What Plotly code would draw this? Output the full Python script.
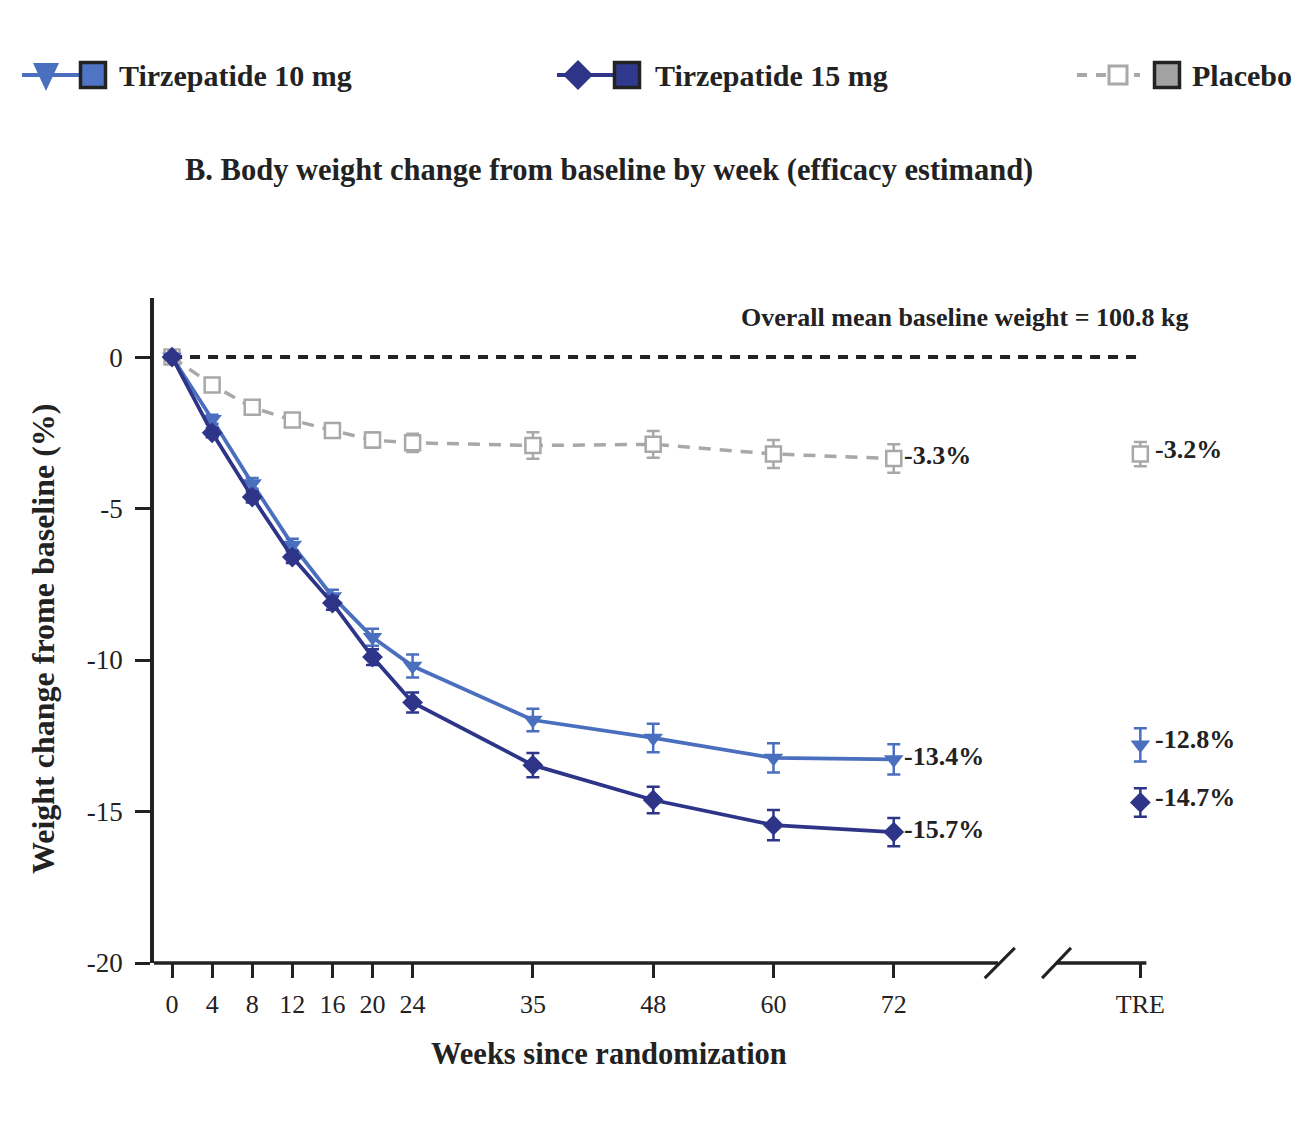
import plotly.graph_objects as go

# ---------------- data ----------------
week_labels = ["0", "4", "8", "12", "16", "20", "24", "35", "48", "60", "72"]
week_pos = [0, 1, 2, 3, 4, 5, 6, 9, 12, 15, 18]   # ordinal plotting positions
tre_label = "TRE"
tre_pos = 24.15

tirz10 = [0, -2.05, -4.17, -6.2, -7.9, -9.25, -10.2, -11.98, -12.57, -13.23, -13.28]
tirz10_err = [0, 0.15, 0.18, 0.2, 0.22, 0.28, 0.38, 0.37, 0.47, 0.48, 0.5]
tirz10_tre, tirz10_tre_err = -12.8, 0.55

tirz15 = [0, -2.5, -4.62, -6.6, -8.12, -9.9, -11.4, -13.47, -14.62, -15.45, -15.68]
tirz15_err = [0, 0.15, 0.18, 0.2, 0.22, 0.26, 0.33, 0.4, 0.44, 0.5, 0.47]
tirz15_tre, tirz15_tre_err = -14.7, 0.47

placebo = [0, -0.92, -1.66, -2.08, -2.42, -2.74, -2.83, -2.92, -2.88, -3.2, -3.35]
placebo_err = [0, 0.12, 0.15, 0.18, 0.2, 0.25, 0.3, 0.44, 0.44, 0.46, 0.47]
placebo_tre, placebo_tre_err = -3.2, 0.4

label72 = {"placebo": "-3.3%", "tirz10": "-13.4%", "tirz15": "-15.7%"}
label_tre = {"placebo": "-3.2%", "tirz10": "-12.8%", "tirz15": "-14.7%"}

y_ticks = [0, -5, -10, -15, -20]
y_ticktext = ["0", "-5", "-10", "-15", "-20"]

# ---------------- style ----------------
C10 = "#4b6fbf"
C15 = "#2e3589"
CPL = "#a8a8a8"
DARK = "#222222"
FONT = "Liberation Serif"

OFF = 8                      # page body margin offset
W, H = 1300 - 2 * OFF, 1128 - 2 * OFF


def X(p):
    return p - OFF


def Y(p):
    return p - OFF


PX_L, PX_R, PX_T, PX_B = X(154), X(1164), Y(298), Y(963)
X_RANGE = [-0.45, 24.74]

fig = go.Figure()


def err(a, c):
    return dict(type="data", array=a, visible=True, thickness=2.5, width=6.5, color=c)


# main series
fig.add_trace(go.Scatter(
    x=week_pos, y=placebo, mode="lines+markers",
    line=dict(color=CPL, width=3.5, dash="12px,9px"),
    marker=dict(symbol="square", size=15, color="white", line=dict(width=2.5, color=CPL)),
    error_y=err(placebo_err, CPL), showlegend=False))
fig.add_trace(go.Scatter(
    x=week_pos, y=tirz10, mode="lines+markers",
    line=dict(color=C10, width=3.8),
    marker=dict(symbol="triangle-down", size=17, color=C10),
    error_y=err(tirz10_err, C10), showlegend=False))
fig.add_trace(go.Scatter(
    x=week_pos, y=tirz15, mode="lines+markers",
    line=dict(color=C15, width=3.8),
    marker=dict(symbol="diamond", size=16, color=C15),
    error_y=err(tirz15_err, C15), showlegend=False))

# TRE points
fig.add_trace(go.Scatter(
    x=[tre_pos], y=[placebo_tre], mode="markers",
    marker=dict(symbol="square", size=15, color="white", line=dict(width=2.5, color=CPL)),
    error_y=err([placebo_tre_err], CPL), showlegend=False))
fig.add_trace(go.Scatter(
    x=[tre_pos], y=[tirz10_tre], mode="markers",
    marker=dict(symbol="triangle-down", size=17, color=C10),
    error_y=err([tirz10_tre_err], C10), showlegend=False))
fig.add_trace(go.Scatter(
    x=[tre_pos], y=[tirz15_tre], mode="markers",
    marker=dict(symbol="diamond", size=16, color=C15),
    error_y=err([tirz15_tre_err], C15), showlegend=False))

# ---------------- legend (overlay pixel axes) ----------------
LY = Y(75)
leg = [
    dict(line=(22, 80), dash=None, color=C10, sym="triangle", mx=46,
         sq=93, sqcol="#4f74c4", text="Tirzepatide 10 mg", tx=117),
    dict(line=(557, 615), dash=None, color=C15, sym="diamond", mx=578,
         sq=627, sqcol="#2f3a8e", text="Tirzepatide 15 mg", tx=653),
    dict(line=(1077, 1140), dash="10px,9px", color=CPL, sym="square-open", mx=1118,
         sq=1167, sqcol="#a2a2a2", text="Placebo", tx=1190),
]
shapes = []
for it in leg:
    fig.add_trace(go.Scatter(
        x=[X(v) for v in it["line"]], y=[LY, LY], mode="lines", xaxis="x2", yaxis="y2",
        line=dict(color=it["color"], width=4, dash=it["dash"]), showlegend=False, hoverinfo="skip"))
    if it["sym"] == "triangle":
        cx = X(it["mx"])
        shapes.append(dict(type="path", xref="x2", yref="y2",
                           path="M %f,%f L %f,%f L %f,%f Z" % (cx - 13, Y(63), cx + 13, Y(63), cx, Y(91)),
                           fillcolor=it["color"], line=dict(width=0)))
    else:
        if it["sym"] == "square-open":
            mk = dict(symbol="square", size=18, color="white", line=dict(width=3, color=it["color"]))
        else:
            mk = dict(symbol="diamond", size=23, color=it["color"])
        fig.add_trace(go.Scatter(
            x=[X(it["mx"])], y=[LY], mode="markers", xaxis="x2", yaxis="y2",
            marker=mk, showlegend=False, hoverinfo="skip"))
    fig.add_trace(go.Scatter(
        x=[X(it["sq"])], y=[LY], mode="markers", xaxis="x2", yaxis="y2",
        marker=dict(symbol="square", size=25, color=it["sqcol"], line=dict(width=3.5, color=DARK)),
        showlegend=False, hoverinfo="skip"))

annotations = []
for it in leg:
    annotations.append(dict(
        x=X(it["tx"]), y=LY, xref="x2", yref="y2", xanchor="left", yanchor="middle",
        text="<b>%s</b>" % it["text"], showarrow=False,
        font=dict(family=FONT, size=30, color=DARK)))

# title & axis titles
annotations.append(dict(x=X(609), y=Y(170), xref="x2", yref="y2", xanchor="center", yanchor="middle",
                        text="<b>B. Body weight change from baseline by week (efficacy estimand)</b>",
                        showarrow=False, font=dict(family=FONT, size=30.5, color=DARK)))
annotations.append(dict(x=X(609), y=Y(1054), xref="x2", yref="y2", xanchor="center", yanchor="middle",
                        text="<b>Weeks since randomization</b>",
                        showarrow=False, font=dict(family=FONT, size=30.5, color=DARK)))
annotations.append(dict(x=X(43), y=Y(639), xref="x2", yref="y2", xanchor="center", yanchor="middle",
                        text="<b>Weight change frome baseline (%)</b>", textangle=-90,
                        showarrow=False, font=dict(family=FONT, size=32, color=DARK)))
annotations.append(dict(x=X(964), y=Y(317), xref="x2", yref="y2", xanchor="center", yanchor="middle",
                        text="<b>Overall mean baseline weight = 100.8 kg</b>",
                        showarrow=False, font=dict(family=FONT, size=26, color=DARK)))

# value labels
lab_font = dict(family=FONT, size=26, color=DARK)
for key, series in (("placebo", placebo), ("tirz10", tirz10), ("tirz15", tirz15)):
    annotations.append(dict(x=week_pos[-1], y=series[-1], xref="x", yref="y",
                            xanchor="left", yanchor="middle", xshift=8, yshift=3,
                            text="<b>%s</b>" % label72[key], showarrow=False, font=lab_font))
for key, v in (("placebo", placebo_tre), ("tirz10", tirz10_tre), ("tirz15", tirz15_tre)):
    annotations.append(dict(x=tre_pos, y=v, xref="x", yref="y",
                            xanchor="left", yanchor="middle", xshift=13, yshift=5,
                            text="<b>%s</b>" % label_tre[key], showarrow=False, font=lab_font))

# ---------------- axis line with break ----------------
y_dom0 = (H - PX_B) / H
y_dom1 = (H - PX_T) / H
unit = (PX_B - PX_T) / (1.95 + 20) / H   # paper per y unit


def py(v):
    return y_dom0 + (v + 20) * unit


shapes += [
    dict(type="line", xref="x", yref="paper", x0=X_RANGE[0], x1=20.6, y0=y_dom0, y1=y_dom0,
         line=dict(color=DARK, width=3.5)),
    dict(type="line", xref="x", yref="paper", x0=20.27, x1=21.02, y0=py(-20.5), y1=py(-19.5),
         line=dict(color=DARK, width=3)),
    dict(type="line", xref="x", yref="paper", x0=21.7, x1=22.42, y0=py(-20.5), y1=py(-19.5),
         line=dict(color=DARK, width=3)),
    dict(type="line", xref="x", yref="paper", x0=22.05, x1=24.3, y0=y_dom0, y1=y_dom0,
         line=dict(color=DARK, width=3.5)),
    dict(type="line", xref="x", yref="y", x0=0, x1=tre_pos, y0=0, y1=0, layer="below",
         line=dict(color=DARK, width=4, dash="10px,8px")),
]

fig.update_layout(
    width=W, height=H,
    margin=dict(l=0, r=0, t=0, b=0),
    paper_bgcolor="white", plot_bgcolor="rgba(0,0,0,0)",
    font=dict(family=FONT, color=DARK),
    showlegend=False,
    xaxis=dict(domain=[PX_L / W, PX_R / W], range=X_RANGE,
               tickvals=week_pos + [tre_pos], ticktext=week_labels + [tre_label],
               showline=False, showgrid=False, zeroline=False,
               ticks="outside", ticklen=14, tickwidth=2.5, tickcolor=DARK,
               ticklabelstandoff=4,
               tickfont=dict(family=FONT, size=26, color=DARK), automargin=False),
    yaxis=dict(domain=[y_dom0, y_dom1], range=[-20, 1.95],
               tickvals=y_ticks, ticktext=y_ticktext,
               showline=True, linewidth=3.5, linecolor=DARK,
               showgrid=False, zeroline=False,
               ticks="outside", ticklen=15, tickwidth=2.5, tickcolor=DARK,
               ticklabelstandoff=7,
               tickfont=dict(family=FONT, size=27, color=DARK), automargin=False),
    xaxis2=dict(domain=[0, 1], range=[0, W], visible=False, anchor="y2", fixedrange=True),
    yaxis2=dict(domain=[0, 1], range=[H, 0], visible=False, anchor="x2", fixedrange=True),
    annotations=annotations,
    shapes=shapes,
)

fig.write_html("out.html")
